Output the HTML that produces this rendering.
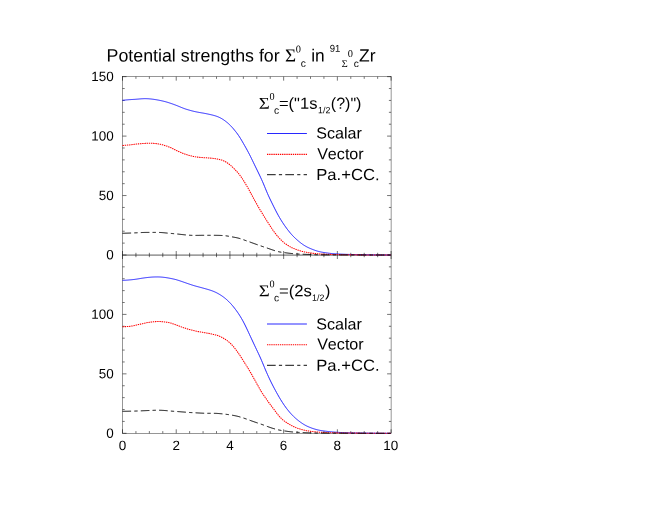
<!DOCTYPE html>
<html><head><meta charset="utf-8"><title>Potential strengths</title>
<style>
html,body{margin:0;padding:0;background:#fff;overflow:hidden;}
svg{display:block;font-family:"Liberation Sans",sans-serif;font-kerning:none;}
text{fill:#000;font-kerning:none;text-rendering:geometricPrecision;}
</style></head><body>
<svg width="654" height="505" viewBox="0 0 654 505">
<rect width="654" height="505" fill="#fff"/>
<g stroke="#000" stroke-width="0.41" fill="none">
<rect x="122.5" y="76.65" width="268.58" height="356.65"/>
<path d="M122.5,255.09 H391.08" stroke-width="0.66"/>
<path d="M122.50,76.65 v4.0 M122.50,251.0 v8.0 M122.50,433.3 v-4.0 M135.93,76.65 v2.2 M135.93,252.8 v4.4 M135.93,433.3 v-2.2 M149.36,76.65 v2.2 M149.36,252.8 v4.4 M149.36,433.3 v-2.2 M162.79,76.65 v2.2 M162.79,252.8 v4.4 M162.79,433.3 v-2.2 M176.22,76.65 v4.0 M176.22,251.0 v8.0 M176.22,433.3 v-4.0 M189.64,76.65 v2.2 M189.64,252.8 v4.4 M189.64,433.3 v-2.2 M203.07,76.65 v2.2 M203.07,252.8 v4.4 M203.07,433.3 v-2.2 M216.50,76.65 v2.2 M216.50,252.8 v4.4 M216.50,433.3 v-2.2 M229.93,76.65 v4.0 M229.93,251.0 v8.0 M229.93,433.3 v-4.0 M243.36,76.65 v2.2 M243.36,252.8 v4.4 M243.36,433.3 v-2.2 M256.79,76.65 v2.2 M256.79,252.8 v4.4 M256.79,433.3 v-2.2 M270.22,76.65 v2.2 M270.22,252.8 v4.4 M270.22,433.3 v-2.2 M283.65,76.65 v4.0 M283.65,251.0 v8.0 M283.65,433.3 v-4.0 M297.08,76.65 v2.2 M297.08,252.8 v4.4 M297.08,433.3 v-2.2 M310.51,76.65 v2.2 M310.51,252.8 v4.4 M310.51,433.3 v-2.2 M323.93,76.65 v2.2 M323.93,252.8 v4.4 M323.93,433.3 v-2.2 M337.36,76.65 v4.0 M337.36,251.0 v8.0 M337.36,433.3 v-4.0 M350.79,76.65 v2.2 M350.79,252.8 v4.4 M350.79,433.3 v-2.2 M364.22,76.65 v2.2 M364.22,252.8 v4.4 M364.22,433.3 v-2.2 M377.65,76.65 v2.2 M377.65,252.8 v4.4 M377.65,433.3 v-2.2 M391.08,76.65 v4.0 M391.08,251.0 v8.0 M391.08,433.3 v-4.0 M122.5,255.00 h4.0 M391.08,255.00 h-4.0 M122.5,243.11 h2.2 M391.08,243.11 h-2.2 M122.5,231.22 h2.2 M391.08,231.22 h-2.2 M122.5,219.33 h2.2 M391.08,219.33 h-2.2 M122.5,207.44 h2.2 M391.08,207.44 h-2.2 M122.5,195.55 h4.0 M391.08,195.55 h-4.0 M122.5,183.66 h2.2 M391.08,183.66 h-2.2 M122.5,171.77 h2.2 M391.08,171.77 h-2.2 M122.5,159.88 h2.2 M391.08,159.88 h-2.2 M122.5,147.99 h2.2 M391.08,147.99 h-2.2 M122.5,136.10 h4.0 M391.08,136.10 h-4.0 M122.5,124.21 h2.2 M391.08,124.21 h-2.2 M122.5,112.32 h2.2 M391.08,112.32 h-2.2 M122.5,100.43 h2.2 M391.08,100.43 h-2.2 M122.5,88.54 h2.2 M391.08,88.54 h-2.2 M122.5,76.65 h4.0 M391.08,76.65 h-4.0 M122.5,433.30 h4.0 M391.08,433.30 h-4.0 M122.5,421.41 h2.2 M391.08,421.41 h-2.2 M122.5,409.52 h2.2 M391.08,409.52 h-2.2 M122.5,397.63 h2.2 M391.08,397.63 h-2.2 M122.5,385.74 h2.2 M391.08,385.74 h-2.2 M122.5,373.85 h4.0 M391.08,373.85 h-4.0 M122.5,361.96 h2.2 M391.08,361.96 h-2.2 M122.5,350.07 h2.2 M391.08,350.07 h-2.2 M122.5,338.18 h2.2 M391.08,338.18 h-2.2 M122.5,326.29 h2.2 M391.08,326.29 h-2.2 M122.5,314.40 h4.0 M391.08,314.40 h-4.0 M122.5,302.51 h2.2 M391.08,302.51 h-2.2 M122.5,290.62 h2.2 M391.08,290.62 h-2.2 M122.5,278.73 h2.2 M391.08,278.73 h-2.2 M122.5,266.84 h2.2 M391.08,266.84 h-2.2" stroke-width="0.55"/>
</g>
<path d="M122.5,100.30 L123.5,100.22 L124.5,100.13 L125.5,100.03 L126.5,99.92 L127.5,99.83 L128.5,99.74 L129.5,99.66 L130.5,99.60 L131.5,99.53 L132.5,99.48 L133.5,99.42 L134.5,99.36 L135.5,99.29 L136.5,99.21 L137.5,99.13 L138.5,99.05 L139.5,98.96 L140.5,98.88 L141.5,98.81 L142.5,98.75 L143.5,98.70 L144.5,98.67 L145.5,98.66 L146.5,98.68 L147.5,98.72 L148.5,98.78 L149.5,98.86 L150.5,98.95 L151.5,99.06 L152.5,99.18 L153.5,99.31 L154.5,99.46 L155.5,99.61 L156.5,99.78 L157.5,99.96 L158.5,100.14 L159.5,100.33 L160.5,100.54 L161.5,100.75 L162.5,100.97 L163.5,101.21 L164.5,101.46 L165.5,101.73 L166.5,102.01 L167.5,102.31 L168.5,102.62 L169.5,102.95 L170.5,103.28 L171.5,103.62 L172.5,103.96 L173.5,104.32 L174.5,104.69 L175.5,105.06 L176.5,105.45 L177.5,105.84 L178.5,106.25 L179.5,106.66 L180.5,107.07 L181.5,107.49 L182.5,107.89 L183.5,108.28 L184.5,108.65 L185.5,108.99 L186.5,109.32 L187.5,109.62 L188.5,109.92 L189.5,110.20 L190.5,110.48 L191.5,110.75 L192.5,111.01 L193.5,111.25 L194.5,111.49 L195.5,111.71 L196.5,111.92 L197.5,112.12 L198.5,112.31 L199.5,112.49 L200.5,112.66 L201.5,112.83 L202.5,112.99 L203.5,113.17 L204.5,113.35 L205.5,113.54 L206.5,113.74 L207.5,113.95 L208.5,114.16 L209.5,114.38 L210.5,114.60 L211.5,114.83 L212.5,115.07 L213.5,115.33 L214.5,115.61 L215.5,115.91 L216.5,116.24 L217.5,116.61 L218.5,117.02 L219.5,117.47 L220.5,117.97 L221.5,118.52 L222.5,119.13 L223.5,119.78 L224.5,120.47 L225.5,121.21 L226.5,121.99 L227.5,122.81 L228.5,123.69 L229.5,124.63 L230.5,125.62 L231.5,126.67 L232.5,127.78 L233.5,128.93 L234.5,130.13 L235.5,131.36 L236.5,132.65 L237.5,133.99 L238.5,135.41 L239.5,136.92 L240.5,138.50 L241.5,140.16 L242.5,141.87 L243.5,143.61 L244.5,145.37 L245.5,147.14 L246.5,148.92 L247.5,150.74 L248.5,152.61 L249.5,154.53 L250.5,156.52 L251.5,158.55 L252.5,160.61 L253.5,162.68 L254.5,164.76 L255.5,166.82 L256.5,168.87 L257.5,170.92 L258.5,172.99 L259.5,175.07 L260.5,177.18 L261.5,179.35 L262.5,181.59 L263.5,183.92 L264.5,186.33 L265.5,188.78 L266.5,191.20 L267.5,193.55 L268.5,195.79 L269.5,197.95 L270.5,200.04 L271.5,202.10 L272.5,204.14 L273.5,206.16 L274.5,208.17 L275.5,210.14 L276.5,212.08 L277.5,213.96 L278.5,215.78 L279.5,217.53 L280.5,219.21 L281.5,220.83 L282.5,222.39 L283.5,223.91 L284.5,225.37 L285.5,226.79 L286.5,228.16 L287.5,229.50 L288.5,230.79 L289.5,232.04 L290.5,233.24 L291.5,234.39 L292.5,235.48 L293.5,236.52 L294.5,237.51 L295.5,238.45 L296.5,239.37 L297.5,240.25 L298.5,241.11 L299.5,241.94 L300.5,242.74 L301.5,243.50 L302.5,244.23 L303.5,244.91 L304.5,245.55 L305.5,246.14 L306.5,246.70 L307.5,247.22 L308.5,247.70 L309.5,248.15 L310.5,248.58 L311.5,248.99 L312.5,249.38 L313.5,249.77 L314.5,250.14 L315.5,250.49 L316.5,250.82 L317.5,251.13 L318.5,251.40 L319.5,251.66 L320.5,251.89 L321.5,252.09 L322.5,252.28 L323.5,252.44 L324.5,252.60 L325.5,252.74 L326.5,252.88 L327.5,253.02 L328.5,253.16 L329.5,253.29 L330.5,253.41 L331.5,253.52 L332.5,253.62 L333.5,253.70 L334.5,253.77 L335.5,253.84 L336.5,253.90 L337.5,253.96 L338.5,254.02 L339.5,254.07 L340.5,254.11 L341.5,254.16 L342.5,254.20 L343.5,254.24 L344.5,254.28 L345.5,254.32 L346.5,254.35 L347.5,254.38 L348.5,254.42 L349.5,254.45 L350.5,254.48 L351.5,254.51 L352.5,254.54 L353.5,254.56 L354.5,254.59 L355.5,254.61 L356.5,254.63 L357.5,254.65 L358.5,254.67 L359.5,254.69 L360.5,254.71 L361.5,254.72 L362.5,254.74 L363.5,254.75 L364.5,254.77 L365.5,254.78 L366.5,254.79 L367.5,254.81 L368.5,254.82 L369.5,254.83 L370.5,254.85 L371.5,254.86 L372.5,254.87 L373.5,254.88 L374.5,254.90 L375.5,254.91 L376.5,254.92 L377.5,254.93 L378.5,254.94 L379.5,254.95 L380.5,254.95 L381.5,254.96 L382.5,254.97 L383.5,254.97 L384.5,254.98 L385.5,254.99 L386.5,254.99 L387.5,254.99 L388.5,255.00 L389.5,255.00 L390.5,255.00" stroke="#0000ff" stroke-width="0.85" fill="none"/>
<path d="M122.5,280.36 L123.5,280.32 L124.5,280.28 L125.5,280.22 L126.5,280.15 L127.5,280.08 L128.5,280.01 L129.5,279.92 L130.5,279.84 L131.5,279.74 L132.5,279.64 L133.5,279.53 L134.5,279.41 L135.5,279.28 L136.5,279.13 L137.5,278.98 L138.5,278.81 L139.5,278.64 L140.5,278.47 L141.5,278.30 L142.5,278.15 L143.5,278.00 L144.5,277.86 L145.5,277.73 L146.5,277.61 L147.5,277.49 L148.5,277.39 L149.5,277.29 L150.5,277.20 L151.5,277.12 L152.5,277.06 L153.5,277.01 L154.5,276.98 L155.5,276.95 L156.5,276.94 L157.5,276.93 L158.5,276.95 L159.5,276.98 L160.5,277.03 L161.5,277.10 L162.5,277.18 L163.5,277.29 L164.5,277.40 L165.5,277.54 L166.5,277.69 L167.5,277.85 L168.5,278.03 L169.5,278.21 L170.5,278.40 L171.5,278.60 L172.5,278.81 L173.5,279.03 L174.5,279.26 L175.5,279.51 L176.5,279.78 L177.5,280.08 L178.5,280.39 L179.5,280.71 L180.5,281.05 L181.5,281.39 L182.5,281.73 L183.5,282.08 L184.5,282.43 L185.5,282.78 L186.5,283.13 L187.5,283.47 L188.5,283.82 L189.5,284.16 L190.5,284.50 L191.5,284.83 L192.5,285.15 L193.5,285.47 L194.5,285.77 L195.5,286.06 L196.5,286.33 L197.5,286.60 L198.5,286.87 L199.5,287.13 L200.5,287.40 L201.5,287.67 L202.5,287.94 L203.5,288.21 L204.5,288.49 L205.5,288.77 L206.5,289.05 L207.5,289.34 L208.5,289.64 L209.5,289.95 L210.5,290.27 L211.5,290.61 L212.5,290.98 L213.5,291.37 L214.5,291.79 L215.5,292.24 L216.5,292.73 L217.5,293.25 L218.5,293.80 L219.5,294.38 L220.5,295.00 L221.5,295.66 L222.5,296.34 L223.5,297.07 L224.5,297.83 L225.5,298.64 L226.5,299.48 L227.5,300.38 L228.5,301.33 L229.5,302.33 L230.5,303.38 L231.5,304.50 L232.5,305.66 L233.5,306.88 L234.5,308.14 L235.5,309.44 L236.5,310.79 L237.5,312.20 L238.5,313.66 L239.5,315.19 L240.5,316.79 L241.5,318.47 L242.5,320.23 L243.5,322.07 L244.5,324.00 L245.5,326.01 L246.5,328.09 L247.5,330.21 L248.5,332.35 L249.5,334.50 L250.5,336.66 L251.5,338.81 L252.5,340.96 L253.5,343.10 L254.5,345.24 L255.5,347.36 L256.5,349.47 L257.5,351.58 L258.5,353.69 L259.5,355.84 L260.5,358.05 L261.5,360.35 L262.5,362.72 L263.5,365.14 L264.5,367.56 L265.5,369.94 L266.5,372.27 L267.5,374.53 L268.5,376.72 L269.5,378.86 L270.5,380.94 L271.5,382.97 L272.5,384.95 L273.5,386.88 L274.5,388.77 L275.5,390.63 L276.5,392.46 L277.5,394.26 L278.5,396.02 L279.5,397.74 L280.5,399.41 L281.5,401.03 L282.5,402.59 L283.5,404.11 L284.5,405.58 L285.5,406.98 L286.5,408.34 L287.5,409.64 L288.5,410.88 L289.5,412.07 L290.5,413.20 L291.5,414.29 L292.5,415.33 L293.5,416.33 L294.5,417.29 L295.5,418.20 L296.5,419.07 L297.5,419.90 L298.5,420.70 L299.5,421.46 L300.5,422.20 L301.5,422.90 L302.5,423.58 L303.5,424.21 L304.5,424.81 L305.5,425.37 L306.5,425.88 L307.5,426.36 L308.5,426.80 L309.5,427.22 L310.5,427.62 L311.5,428.00 L312.5,428.36 L313.5,428.69 L314.5,429.01 L315.5,429.30 L316.5,429.58 L317.5,429.83 L318.5,430.07 L319.5,430.27 L320.5,430.46 L321.5,430.63 L322.5,430.78 L323.5,430.92 L324.5,431.06 L325.5,431.18 L326.5,431.31 L327.5,431.43 L328.5,431.54 L329.5,431.65 L330.5,431.75 L331.5,431.84 L332.5,431.93 L333.5,432.01 L334.5,432.09 L335.5,432.17 L336.5,432.24 L337.5,432.31 L338.5,432.37 L339.5,432.44 L340.5,432.49 L341.5,432.55 L342.5,432.59 L343.5,432.64 L344.5,432.67 L345.5,432.71 L346.5,432.74 L347.5,432.77 L348.5,432.79 L349.5,432.82 L350.5,432.84 L351.5,432.86 L352.5,432.88 L353.5,432.90 L354.5,432.92 L355.5,432.93 L356.5,432.95 L357.5,432.96 L358.5,432.98 L359.5,432.99 L360.5,433.01 L361.5,433.02 L362.5,433.03 L363.5,433.05 L364.5,433.06 L365.5,433.07 L366.5,433.09 L367.5,433.10 L368.5,433.11 L369.5,433.12 L370.5,433.14 L371.5,433.15 L372.5,433.16 L373.5,433.17 L374.5,433.18 L375.5,433.19 L376.5,433.20 L377.5,433.21 L378.5,433.22 L379.5,433.23 L380.5,433.24 L381.5,433.25 L382.5,433.25 L383.5,433.26 L384.5,433.27 L385.5,433.27 L386.5,433.28 L387.5,433.29 L388.5,433.29 L389.5,433.29 L390.5,433.30" stroke="#0000ff" stroke-width="0.85" fill="none"/>
<path d="M122.5,145.44 L123.5,145.40 L124.5,145.34 L125.5,145.27 L126.5,145.19 L127.5,145.10 L128.5,145.01 L129.5,144.90 L130.5,144.80 L131.5,144.68 L132.5,144.57 L133.5,144.45 L134.5,144.33 L135.5,144.22 L136.5,144.10 L137.5,143.99 L138.5,143.88 L139.5,143.78 L140.5,143.69 L141.5,143.61 L142.5,143.54 L143.5,143.47 L144.5,143.41 L145.5,143.37 L146.5,143.34 L147.5,143.32 L148.5,143.31 L149.5,143.30 L150.5,143.30 L151.5,143.31 L152.5,143.33 L153.5,143.36 L154.5,143.42 L155.5,143.51 L156.5,143.62 L157.5,143.75 L158.5,143.91 L159.5,144.10 L160.5,144.31 L161.5,144.55 L162.5,144.80 L163.5,145.08 L164.5,145.38 L165.5,145.70 L166.5,146.03 L167.5,146.39 L168.5,146.76 L169.5,147.16 L170.5,147.58 L171.5,148.04 L172.5,148.53 L173.5,149.03 L174.5,149.54 L175.5,150.04 L176.5,150.52 L177.5,150.98 L178.5,151.43 L179.5,151.87 L180.5,152.32 L181.5,152.75 L182.5,153.17 L183.5,153.58 L184.5,153.95 L185.5,154.30 L186.5,154.62 L187.5,154.92 L188.5,155.20 L189.5,155.47 L190.5,155.73 L191.5,155.98 L192.5,156.23 L193.5,156.45 L194.5,156.65 L195.5,156.84 L196.5,157.00 L197.5,157.14 L198.5,157.27 L199.5,157.37 L200.5,157.46 L201.5,157.53 L202.5,157.60 L203.5,157.66 L204.5,157.72 L205.5,157.78 L206.5,157.84 L207.5,157.90 L208.5,157.97 L209.5,158.05 L210.5,158.14 L211.5,158.24 L212.5,158.34 L213.5,158.46 L214.5,158.59 L215.5,158.73 L216.5,158.89 L217.5,159.07 L218.5,159.27 L219.5,159.51 L220.5,159.77 L221.5,160.08 L222.5,160.42 L223.5,160.82 L224.5,161.27 L225.5,161.79 L226.5,162.37 L227.5,163.01 L228.5,163.71 L229.5,164.47 L230.5,165.29 L231.5,166.16 L232.5,167.09 L233.5,168.05 L234.5,169.05 L235.5,170.09 L236.5,171.16 L237.5,172.29 L238.5,173.47 L239.5,174.72 L240.5,176.06 L241.5,177.47 L242.5,178.96 L243.5,180.51 L244.5,182.12 L245.5,183.77 L246.5,185.46 L247.5,187.19 L248.5,188.97 L249.5,190.79 L250.5,192.64 L251.5,194.50 L252.5,196.37 L253.5,198.22 L254.5,200.04 L255.5,201.85 L256.5,203.63 L257.5,205.39 L258.5,207.12 L259.5,208.84 L260.5,210.53 L261.5,212.20 L262.5,213.85 L263.5,215.48 L264.5,217.09 L265.5,218.68 L266.5,220.27 L267.5,221.85 L268.5,223.43 L269.5,225.00 L270.5,226.55 L271.5,228.07 L272.5,229.54 L273.5,230.97 L274.5,232.34 L275.5,233.66 L276.5,234.93 L277.5,236.14 L278.5,237.31 L279.5,238.42 L280.5,239.47 L281.5,240.46 L282.5,241.39 L283.5,242.25 L284.5,243.05 L285.5,243.80 L286.5,244.51 L287.5,245.17 L288.5,245.79 L289.5,246.38 L290.5,246.93 L291.5,247.45 L292.5,247.93 L293.5,248.37 L294.5,248.79 L295.5,249.18 L296.5,249.56 L297.5,249.91 L298.5,250.25 L299.5,250.57 L300.5,250.88 L301.5,251.17 L302.5,251.44 L303.5,251.70 L304.5,251.93 L305.5,252.15 L306.5,252.35 L307.5,252.53 L308.5,252.70 L309.5,252.85 L310.5,252.99 L311.5,253.12 L312.5,253.24 L313.5,253.36 L314.5,253.46 L315.5,253.56 L316.5,253.66 L317.5,253.75 L318.5,253.84 L319.5,253.92 L320.5,254.00 L321.5,254.06 L322.5,254.12 L323.5,254.16 L324.5,254.21 L325.5,254.24 L326.5,254.28 L327.5,254.31 L328.5,254.34 L329.5,254.37 L330.5,254.39 L331.5,254.42 L332.5,254.44 L333.5,254.46 L334.5,254.49 L335.5,254.51 L336.5,254.54 L337.5,254.56 L338.5,254.59 L339.5,254.61 L340.5,254.63 L341.5,254.66 L342.5,254.68 L343.5,254.70 L344.5,254.72 L345.5,254.74 L346.5,254.75 L347.5,254.77 L348.5,254.78 L349.5,254.79 L350.5,254.80 L351.5,254.81 L352.5,254.82 L353.5,254.83 L354.5,254.84 L355.5,254.85 L356.5,254.85 L357.5,254.86 L358.5,254.87 L359.5,254.88 L360.5,254.88 L361.5,254.89 L362.5,254.90 L363.5,254.90 L364.5,254.91 L365.5,254.92 L366.5,254.92 L367.5,254.93 L368.5,254.93 L369.5,254.94 L370.5,254.94 L371.5,254.95 L372.5,254.95 L373.5,254.96 L374.5,254.96 L375.5,254.97 L376.5,254.97 L377.5,254.97 L378.5,254.98 L379.5,254.98 L380.5,254.98 L381.5,254.99 L382.5,254.99 L383.5,254.99 L384.5,254.99 L385.5,255.00 L386.5,255.00 L387.5,255.00 L388.5,255.00 L389.5,255.00 L390.5,255.00" stroke="#ff0000" stroke-width="1.05" stroke-dasharray="1.4 0.8" fill="none"/>
<path d="M122.5,326.69 L123.5,326.68 L124.5,326.66 L125.5,326.63 L126.5,326.59 L127.5,326.53 L128.5,326.46 L129.5,326.37 L130.5,326.25 L131.5,326.10 L132.5,325.92 L133.5,325.73 L134.5,325.52 L135.5,325.31 L136.5,325.08 L137.5,324.85 L138.5,324.61 L139.5,324.37 L140.5,324.13 L141.5,323.88 L142.5,323.65 L143.5,323.42 L144.5,323.19 L145.5,322.98 L146.5,322.78 L147.5,322.60 L148.5,322.43 L149.5,322.27 L150.5,322.13 L151.5,322.01 L152.5,321.89 L153.5,321.80 L154.5,321.71 L155.5,321.64 L156.5,321.59 L157.5,321.56 L158.5,321.55 L159.5,321.56 L160.5,321.59 L161.5,321.64 L162.5,321.70 L163.5,321.79 L164.5,321.90 L165.5,322.03 L166.5,322.19 L167.5,322.36 L168.5,322.56 L169.5,322.78 L170.5,323.03 L171.5,323.32 L172.5,323.64 L173.5,323.98 L174.5,324.34 L175.5,324.71 L176.5,325.08 L177.5,325.45 L178.5,325.82 L179.5,326.19 L180.5,326.56 L181.5,326.93 L182.5,327.30 L183.5,327.66 L184.5,328.00 L185.5,328.34 L186.5,328.66 L187.5,328.97 L188.5,329.26 L189.5,329.55 L190.5,329.82 L191.5,330.07 L192.5,330.32 L193.5,330.56 L194.5,330.78 L195.5,331.00 L196.5,331.22 L197.5,331.42 L198.5,331.61 L199.5,331.80 L200.5,331.98 L201.5,332.15 L202.5,332.32 L203.5,332.49 L204.5,332.66 L205.5,332.84 L206.5,333.02 L207.5,333.20 L208.5,333.39 L209.5,333.58 L210.5,333.78 L211.5,333.98 L212.5,334.19 L213.5,334.42 L214.5,334.65 L215.5,334.91 L216.5,335.19 L217.5,335.50 L218.5,335.85 L219.5,336.24 L220.5,336.68 L221.5,337.16 L222.5,337.68 L223.5,338.25 L224.5,338.85 L225.5,339.48 L226.5,340.16 L227.5,340.89 L228.5,341.68 L229.5,342.53 L230.5,343.45 L231.5,344.45 L232.5,345.52 L233.5,346.65 L234.5,347.86 L235.5,349.13 L236.5,350.46 L237.5,351.85 L238.5,353.29 L239.5,354.77 L240.5,356.30 L241.5,357.85 L242.5,359.43 L243.5,361.02 L244.5,362.61 L245.5,364.21 L246.5,365.80 L247.5,367.41 L248.5,369.04 L249.5,370.70 L250.5,372.40 L251.5,374.13 L252.5,375.90 L253.5,377.69 L254.5,379.49 L255.5,381.30 L256.5,383.11 L257.5,384.92 L258.5,386.72 L259.5,388.49 L260.5,390.22 L261.5,391.90 L262.5,393.49 L263.5,394.99 L264.5,396.43 L265.5,397.83 L266.5,399.25 L267.5,400.68 L268.5,402.12 L269.5,403.52 L270.5,404.87 L271.5,406.19 L272.5,407.49 L273.5,408.81 L274.5,410.15 L275.5,411.50 L276.5,412.84 L277.5,414.13 L278.5,415.37 L279.5,416.54 L280.5,417.62 L281.5,418.63 L282.5,419.55 L283.5,420.39 L284.5,421.17 L285.5,421.89 L286.5,422.56 L287.5,423.20 L288.5,423.82 L289.5,424.41 L290.5,424.98 L291.5,425.53 L292.5,426.04 L293.5,426.52 L294.5,426.98 L295.5,427.41 L296.5,427.81 L297.5,428.19 L298.5,428.54 L299.5,428.87 L300.5,429.18 L301.5,429.47 L302.5,429.74 L303.5,430.00 L304.5,430.23 L305.5,430.45 L306.5,430.65 L307.5,430.83 L308.5,431.00 L309.5,431.15 L310.5,431.29 L311.5,431.42 L312.5,431.54 L313.5,431.66 L314.5,431.76 L315.5,431.86 L316.5,431.95 L317.5,432.04 L318.5,432.12 L319.5,432.19 L320.5,432.26 L321.5,432.33 L322.5,432.39 L323.5,432.45 L324.5,432.50 L325.5,432.54 L326.5,432.58 L327.5,432.62 L328.5,432.65 L329.5,432.69 L330.5,432.72 L331.5,432.74 L332.5,432.77 L333.5,432.80 L334.5,432.82 L335.5,432.84 L336.5,432.86 L337.5,432.88 L338.5,432.90 L339.5,432.92 L340.5,432.94 L341.5,432.95 L342.5,432.97 L343.5,432.98 L344.5,432.99 L345.5,433.00 L346.5,433.02 L347.5,433.03 L348.5,433.04 L349.5,433.05 L350.5,433.06 L351.5,433.07 L352.5,433.08 L353.5,433.09 L354.5,433.10 L355.5,433.11 L356.5,433.12 L357.5,433.13 L358.5,433.14 L359.5,433.14 L360.5,433.15 L361.5,433.16 L362.5,433.17 L363.5,433.18 L364.5,433.19 L365.5,433.19 L366.5,433.20 L367.5,433.21 L368.5,433.22 L369.5,433.22 L370.5,433.23 L371.5,433.24 L372.5,433.24 L373.5,433.25 L374.5,433.25 L375.5,433.26 L376.5,433.26 L377.5,433.27 L378.5,433.27 L379.5,433.28 L380.5,433.28 L381.5,433.28 L382.5,433.29 L383.5,433.29 L384.5,433.29 L385.5,433.29 L386.5,433.30 L387.5,433.30 L388.5,433.30 L389.5,433.30 L390.5,433.30" stroke="#ff0000" stroke-width="1.05" stroke-dasharray="1.4 0.8" fill="none"/>
<path d="M122.5,233.28 L123.5,233.26 L124.5,233.23 L125.5,233.20 L126.5,233.17 L127.5,233.14 L128.5,233.10 L129.5,233.07 L130.5,233.04 L131.5,233.00 L132.5,232.96 L133.5,232.93 L134.5,232.89 L135.5,232.84 L136.5,232.80 L137.5,232.75 L138.5,232.70 L139.5,232.65 L140.5,232.60 L141.5,232.55 L142.5,232.51 L143.5,232.47 L144.5,232.45 L145.5,232.43 L146.5,232.41 L147.5,232.41 L148.5,232.40 L149.5,232.40 L150.5,232.40 L151.5,232.40 L152.5,232.40 L153.5,232.40 L154.5,232.40 L155.5,232.40 L156.5,232.40 L157.5,232.41 L158.5,232.42 L159.5,232.45 L160.5,232.49 L161.5,232.55 L162.5,232.63 L163.5,232.71 L164.5,232.81 L165.5,232.91 L166.5,233.00 L167.5,233.10 L168.5,233.19 L169.5,233.28 L170.5,233.37 L171.5,233.46 L172.5,233.55 L173.5,233.65 L174.5,233.74 L175.5,233.84 L176.5,233.94 L177.5,234.04 L178.5,234.14 L179.5,234.25 L180.5,234.36 L181.5,234.47 L182.5,234.58 L183.5,234.69 L184.5,234.80 L185.5,234.90 L186.5,235.00 L187.5,235.10 L188.5,235.17 L189.5,235.24 L190.5,235.29 L191.5,235.33 L192.5,235.35 L193.5,235.37 L194.5,235.38 L195.5,235.38 L196.5,235.38 L197.5,235.37 L198.5,235.36 L199.5,235.34 L200.5,235.33 L201.5,235.31 L202.5,235.31 L203.5,235.30 L204.5,235.30 L205.5,235.30 L206.5,235.30 L207.5,235.30 L208.5,235.30 L209.5,235.30 L210.5,235.30 L211.5,235.30 L212.5,235.30 L213.5,235.30 L214.5,235.31 L215.5,235.32 L216.5,235.33 L217.5,235.35 L218.5,235.37 L219.5,235.40 L220.5,235.43 L221.5,235.48 L222.5,235.53 L223.5,235.59 L224.5,235.67 L225.5,235.77 L226.5,235.90 L227.5,236.05 L228.5,236.22 L229.5,236.40 L230.5,236.58 L231.5,236.77 L232.5,236.95 L233.5,237.13 L234.5,237.31 L235.5,237.50 L236.5,237.70 L237.5,237.92 L238.5,238.16 L239.5,238.43 L240.5,238.73 L241.5,239.05 L242.5,239.40 L243.5,239.75 L244.5,240.11 L245.5,240.47 L246.5,240.83 L247.5,241.18 L248.5,241.54 L249.5,241.89 L250.5,242.25 L251.5,242.61 L252.5,242.97 L253.5,243.33 L254.5,243.69 L255.5,244.05 L256.5,244.41 L257.5,244.76 L258.5,245.11 L259.5,245.46 L260.5,245.81 L261.5,246.15 L262.5,246.49 L263.5,246.83 L264.5,247.16 L265.5,247.50 L266.5,247.83 L267.5,248.17 L268.5,248.52 L269.5,248.87 L270.5,249.22 L271.5,249.57 L272.5,249.91 L273.5,250.24 L274.5,250.57 L275.5,250.87 L276.5,251.16 L277.5,251.43 L278.5,251.68 L279.5,251.90 L280.5,252.09 L281.5,252.25 L282.5,252.40 L283.5,252.54 L284.5,252.66 L285.5,252.79 L286.5,252.91 L287.5,253.04 L288.5,253.16 L289.5,253.27 L290.5,253.38 L291.5,253.49 L292.5,253.59 L293.5,253.68 L294.5,253.77 L295.5,253.85 L296.5,253.92 L297.5,253.99 L298.5,254.05 L299.5,254.10 L300.5,254.15 L301.5,254.19 L302.5,254.23 L303.5,254.27 L304.5,254.31 L305.5,254.35 L306.5,254.38 L307.5,254.42 L308.5,254.46 L309.5,254.50 L310.5,254.53 L311.5,254.57 L312.5,254.61 L313.5,254.64 L314.5,254.68 L315.5,254.71 L316.5,254.73 L317.5,254.76 L318.5,254.77 L319.5,254.79 L320.5,254.80 L321.5,254.81 L322.5,254.81 L323.5,254.82 L324.5,254.83 L325.5,254.83 L326.5,254.84 L327.5,254.84 L328.5,254.85 L329.5,254.86 L330.5,254.86 L331.5,254.87 L332.5,254.87 L333.5,254.88 L334.5,254.88 L335.5,254.88 L336.5,254.89 L337.5,254.89 L338.5,254.90 L339.5,254.90 L340.5,254.91 L341.5,254.91 L342.5,254.91 L343.5,254.92 L344.5,254.92 L345.5,254.93 L346.5,254.93 L347.5,254.93 L348.5,254.94 L349.5,254.94 L350.5,254.94 L351.5,254.95 L352.5,254.95 L353.5,254.95 L354.5,254.95 L355.5,254.96 L356.5,254.96 L357.5,254.96 L358.5,254.96 L359.5,254.97 L360.5,254.97 L361.5,254.97 L362.5,254.97 L363.5,254.97 L364.5,254.98 L365.5,254.98 L366.5,254.98 L367.5,254.98 L368.5,254.98 L369.5,254.98 L370.5,254.99 L371.5,254.99 L372.5,254.99 L373.5,254.99 L374.5,254.99 L375.5,254.99 L376.5,254.99 L377.5,254.99 L378.5,254.99 L379.5,255.00 L380.5,255.00 L381.5,255.00 L382.5,255.00 L383.5,255.00 L384.5,255.00 L385.5,255.00 L386.5,255.00 L387.5,255.00 L388.5,255.00 L389.5,255.00 L390.5,255.00" stroke="#000" stroke-width="1" stroke-dasharray="8.6 3.2 3.3 3.2" fill="none"/>
<path d="M122.5,411.29 L123.5,411.29 L124.5,411.28 L125.5,411.27 L126.5,411.25 L127.5,411.24 L128.5,411.22 L129.5,411.20 L130.5,411.18 L131.5,411.16 L132.5,411.14 L133.5,411.12 L134.5,411.09 L135.5,411.06 L136.5,411.03 L137.5,410.99 L138.5,410.95 L139.5,410.91 L140.5,410.86 L141.5,410.82 L142.5,410.78 L143.5,410.73 L144.5,410.69 L145.5,410.65 L146.5,410.60 L147.5,410.56 L148.5,410.52 L149.5,410.48 L150.5,410.44 L151.5,410.40 L152.5,410.36 L153.5,410.32 L154.5,410.29 L155.5,410.26 L156.5,410.24 L157.5,410.23 L158.5,410.23 L159.5,410.24 L160.5,410.27 L161.5,410.31 L162.5,410.36 L163.5,410.42 L164.5,410.49 L165.5,410.57 L166.5,410.65 L167.5,410.75 L168.5,410.85 L169.5,410.94 L170.5,411.04 L171.5,411.12 L172.5,411.21 L173.5,411.28 L174.5,411.35 L175.5,411.42 L176.5,411.49 L177.5,411.56 L178.5,411.63 L179.5,411.70 L180.5,411.78 L181.5,411.86 L182.5,411.94 L183.5,412.02 L184.5,412.10 L185.5,412.18 L186.5,412.26 L187.5,412.33 L188.5,412.40 L189.5,412.47 L190.5,412.54 L191.5,412.60 L192.5,412.66 L193.5,412.72 L194.5,412.77 L195.5,412.82 L196.5,412.87 L197.5,412.92 L198.5,412.97 L199.5,413.03 L200.5,413.08 L201.5,413.13 L202.5,413.18 L203.5,413.22 L204.5,413.25 L205.5,413.28 L206.5,413.29 L207.5,413.30 L208.5,413.30 L209.5,413.30 L210.5,413.30 L211.5,413.30 L212.5,413.30 L213.5,413.31 L214.5,413.33 L215.5,413.35 L216.5,413.39 L217.5,413.45 L218.5,413.52 L219.5,413.60 L220.5,413.69 L221.5,413.78 L222.5,413.88 L223.5,413.99 L224.5,414.10 L225.5,414.22 L226.5,414.35 L227.5,414.48 L228.5,414.62 L229.5,414.77 L230.5,414.92 L231.5,415.08 L232.5,415.25 L233.5,415.43 L234.5,415.62 L235.5,415.82 L236.5,416.04 L237.5,416.27 L238.5,416.53 L239.5,416.80 L240.5,417.09 L241.5,417.39 L242.5,417.70 L243.5,418.02 L244.5,418.36 L245.5,418.71 L246.5,419.06 L247.5,419.43 L248.5,419.80 L249.5,420.17 L250.5,420.53 L251.5,420.89 L252.5,421.24 L253.5,421.59 L254.5,421.94 L255.5,422.28 L256.5,422.62 L257.5,422.96 L258.5,423.30 L259.5,423.64 L260.5,423.98 L261.5,424.32 L262.5,424.67 L263.5,425.03 L264.5,425.39 L265.5,425.76 L266.5,426.14 L267.5,426.52 L268.5,426.89 L269.5,427.25 L270.5,427.60 L271.5,427.93 L272.5,428.25 L273.5,428.56 L274.5,428.85 L275.5,429.14 L276.5,429.41 L277.5,429.66 L278.5,429.90 L279.5,430.11 L280.5,430.31 L281.5,430.48 L282.5,430.65 L283.5,430.80 L284.5,430.95 L285.5,431.09 L286.5,431.23 L287.5,431.38 L288.5,431.52 L289.5,431.64 L290.5,431.76 L291.5,431.87 L292.5,431.96 L293.5,432.04 L294.5,432.12 L295.5,432.18 L296.5,432.24 L297.5,432.31 L298.5,432.36 L299.5,432.42 L300.5,432.48 L301.5,432.54 L302.5,432.59 L303.5,432.64 L304.5,432.69 L305.5,432.73 L306.5,432.77 L307.5,432.81 L308.5,432.84 L309.5,432.87 L310.5,432.91 L311.5,432.93 L312.5,432.96 L313.5,432.99 L314.5,433.01 L315.5,433.03 L316.5,433.05 L317.5,433.07 L318.5,433.08 L319.5,433.09 L320.5,433.10 L321.5,433.11 L322.5,433.11 L323.5,433.12 L324.5,433.13 L325.5,433.13 L326.5,433.14 L327.5,433.14 L328.5,433.15 L329.5,433.15 L330.5,433.16 L331.5,433.16 L332.5,433.17 L333.5,433.17 L334.5,433.18 L335.5,433.18 L336.5,433.19 L337.5,433.19 L338.5,433.20 L339.5,433.20 L340.5,433.20 L341.5,433.21 L342.5,433.21 L343.5,433.22 L344.5,433.22 L345.5,433.22 L346.5,433.23 L347.5,433.23 L348.5,433.23 L349.5,433.24 L350.5,433.24 L351.5,433.24 L352.5,433.25 L353.5,433.25 L354.5,433.25 L355.5,433.25 L356.5,433.26 L357.5,433.26 L358.5,433.26 L359.5,433.26 L360.5,433.27 L361.5,433.27 L362.5,433.27 L363.5,433.27 L364.5,433.27 L365.5,433.28 L366.5,433.28 L367.5,433.28 L368.5,433.28 L369.5,433.28 L370.5,433.29 L371.5,433.29 L372.5,433.29 L373.5,433.29 L374.5,433.29 L375.5,433.29 L376.5,433.29 L377.5,433.29 L378.5,433.29 L379.5,433.30 L380.5,433.30 L381.5,433.30 L382.5,433.30 L383.5,433.30 L384.5,433.30 L385.5,433.30 L386.5,433.30 L387.5,433.30 L388.5,433.30 L389.5,433.30 L390.5,433.30" stroke="#000" stroke-width="1" stroke-dasharray="8.6 3.2 3.3 3.2" fill="none"/>
<g opacity="0.999">
<text transform="translate(106.54,61.50) rotate(0.03) scale(1.0028,1)" font-family="Liberation Sans" font-size="17.75">Potential strengths for</text>
<text transform="translate(284.95,61.50) rotate(0.03) scale(1.0426,1)" font-family="Liberation Serif" font-size="18.3">Σ</text>
<text transform="translate(295.80,52.60) rotate(0.03) scale(1.0000,1)" font-family="Liberation Serif" font-size="10.4">0</text>
<text transform="translate(300.76,66.80) rotate(0.03) scale(1.0000,1)" font-family="Liberation Sans" font-size="10.3">c</text>
<text transform="translate(311.14,61.50) rotate(0.03) scale(0.9760,1)" font-family="Liberation Sans" font-size="17.75">in</text>
<text transform="translate(329.65,51.80) rotate(0.03) scale(0.9638,1)" font-family="Liberation Sans" font-size="9.9">91</text>
<text transform="translate(341.58,66.90) rotate(0.03) scale(1.0758,1)" font-family="Liberation Serif" font-size="10.0">Σ</text>
<text transform="translate(347.80,57.00) rotate(0.03) scale(1.0000,1)" font-family="Liberation Serif" font-size="10.4">0</text>
<text transform="translate(353.66,67.10) rotate(0.03) scale(1.0000,1)" font-family="Liberation Sans" font-size="10.3">c</text>
<text transform="translate(358.94,61.50) rotate(0.03) scale(0.9877,1)" font-family="Liberation Sans" font-size="17.75">Zr</text>
<text transform="translate(106.15,259.35) rotate(0.03) scale(1.0000,1)" font-family="Liberation Sans" font-size="13.45">0</text>
<text transform="translate(98.66,199.90) rotate(0.03) scale(1.0000,1)" font-family="Liberation Sans" font-size="13.45">50</text>
<text transform="translate(91.18,140.45) rotate(0.03) scale(1.0000,1)" font-family="Liberation Sans" font-size="13.45">100</text>
<text transform="translate(91.18,81.00) rotate(0.03) scale(1.0000,1)" font-family="Liberation Sans" font-size="13.45">150</text>
<text transform="translate(106.15,437.65) rotate(0.03) scale(1.0000,1)" font-family="Liberation Sans" font-size="13.45">0</text>
<text transform="translate(98.66,378.20) rotate(0.03) scale(1.0000,1)" font-family="Liberation Sans" font-size="13.45">50</text>
<text transform="translate(91.18,318.75) rotate(0.03) scale(1.0000,1)" font-family="Liberation Sans" font-size="13.45">100</text>
<text transform="translate(118.76,449.90) rotate(0.03) scale(1.0000,1)" font-family="Liberation Sans" font-size="13.45">0</text>
<text transform="translate(172.48,449.90) rotate(0.03) scale(1.0000,1)" font-family="Liberation Sans" font-size="13.45">2</text>
<text transform="translate(226.23,449.90) rotate(0.03) scale(1.0000,1)" font-family="Liberation Sans" font-size="13.45">4</text>
<text transform="translate(279.86,449.90) rotate(0.03) scale(1.0000,1)" font-family="Liberation Sans" font-size="13.45">6</text>
<text transform="translate(333.62,449.90) rotate(0.03) scale(1.0000,1)" font-family="Liberation Sans" font-size="13.45">8</text>
<text transform="translate(383.35,449.90) rotate(0.03) scale(1.0000,1)" font-family="Liberation Sans" font-size="13.45">10</text>
<path d="M267,133.5 H306.9" stroke="#0000ff" stroke-width="0.85" fill="none"/>
<path d="M267,154.35 H307" stroke="#ff0000" stroke-width="1.15" stroke-dasharray="1.35 0.8" fill="none"/>
<path d="M267,174.7 H307" stroke="#000" stroke-width="0.95" stroke-dasharray="8.7 3.2 3.2 3.2" fill="none"/>
<text transform="translate(316.17,138.60) rotate(0.03) scale(1.0054,1)" font-family="Liberation Sans" font-size="16.0">Scalar</text>
<text transform="translate(317.13,159.20) rotate(0.03) scale(1.0064,1)" font-family="Liberation Sans" font-size="16.0">Vector</text>
<text transform="translate(316.24,180.10) rotate(0.03) scale(1.0389,1)" font-family="Liberation Sans" font-size="16.0">Pa.+CC.</text>
<text transform="translate(258.86,108.80) rotate(0.03) scale(1.1440,1)" font-family="Liberation Serif" font-size="16.5">Σ</text>
<text transform="translate(269.41,99.80) rotate(0.03) scale(1.0000,1)" font-family="Liberation Serif" font-size="10.2">0</text>
<text transform="translate(273.97,113.70) rotate(0.03) scale(1.0000,1)" font-family="Liberation Sans" font-size="10.2">c</text>
<text transform="translate(278.99,108.80) rotate(0.03) scale(1.0309,1)" font-family="Liberation Sans" font-size="16.0">=(&quot;1s</text>
<text transform="translate(318.02,113.30) rotate(0.03) scale(0.9848,1)" font-family="Liberation Sans" font-size="9.0">1/2</text>
<text transform="translate(330.81,108.80) rotate(0.03) scale(1.0008,1)" font-family="Liberation Sans" font-size="16.0">(?)&quot;)</text>
<path d="M267,324.0 H306.9" stroke="#0000ff" stroke-width="0.85" fill="none"/>
<path d="M267,344.7 H307" stroke="#ff0000" stroke-width="1.15" stroke-dasharray="1.35 0.8" fill="none"/>
<path d="M267,365.3 H307" stroke="#000" stroke-width="0.95" stroke-dasharray="8.7 3.2 3.2 3.2" fill="none"/>
<text transform="translate(316.17,329.40) rotate(0.03) scale(1.0054,1)" font-family="Liberation Sans" font-size="16.0">Scalar</text>
<text transform="translate(317.13,349.50) rotate(0.03) scale(1.0064,1)" font-family="Liberation Sans" font-size="16.0">Vector</text>
<text transform="translate(316.24,370.70) rotate(0.03) scale(1.0389,1)" font-family="Liberation Sans" font-size="16.0">Pa.+CC.</text>
<text transform="translate(258.86,296.30) rotate(0.03) scale(1.1440,1)" font-family="Liberation Serif" font-size="16.5">Σ</text>
<text transform="translate(269.41,287.30) rotate(0.03) scale(1.0000,1)" font-family="Liberation Serif" font-size="10.2">0</text>
<text transform="translate(273.97,301.20) rotate(0.03) scale(1.0000,1)" font-family="Liberation Sans" font-size="10.2">c</text>
<text transform="translate(278.89,296.30) rotate(0.03) scale(1.0427,1)" font-family="Liberation Sans" font-size="16.0">=(2s</text>
<text transform="translate(312.02,300.80) rotate(0.03) scale(0.9848,1)" font-family="Liberation Sans" font-size="9.0">1/2</text>
<text transform="translate(325.11,296.30) rotate(0.03) scale(1.0000,1)" font-family="Liberation Sans" font-size="16.0">)</text>
</g>
</svg>
</body></html>
